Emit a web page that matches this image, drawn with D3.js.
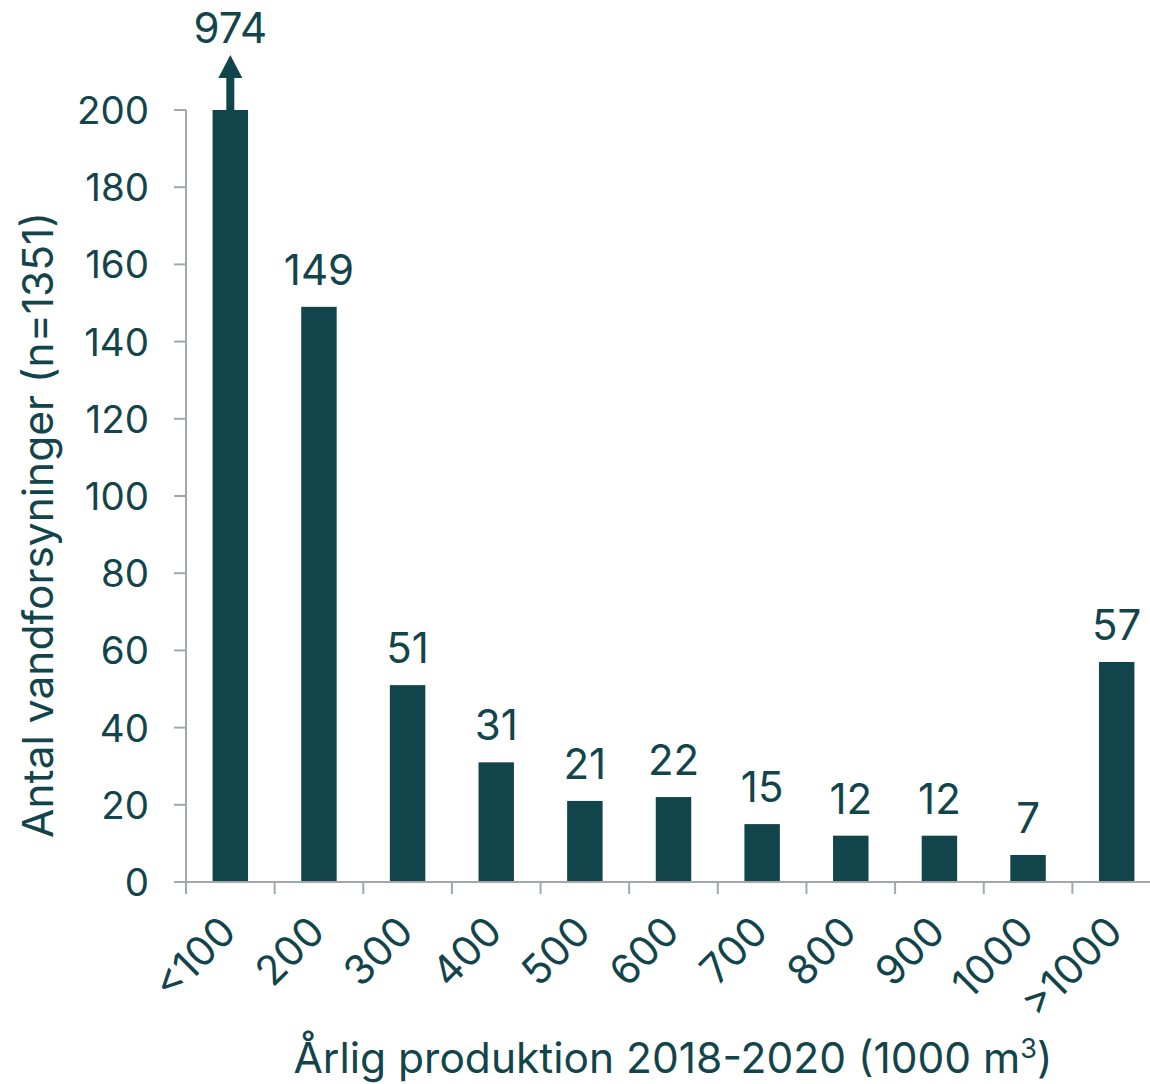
<!DOCTYPE html>
<html>
<head>
<meta charset="utf-8">
<script src="https://cdn.jsdelivr.net/npm/d3@7"></script>
<style>
  body { margin: 0; background: #fff; }
  text { font-family: Inter, "Noto Sans", sans-serif; fill: #12454b; }
</style>
</head>
<body>
<div id="chart"></div>
<script>
// categories and counts
const categories = ["<100", "200", "300", "400", "500", "600", "700", "800", "900", "1000", ">1000"];
const counts = [974, 149, 51, 31, 21, 22, 15, 12, 12, 7, 57];
const yTicks = [0, 20, 40, 60, 80, 100, 120, 140, 160, 180, 200];

const width = 1150, height = 1084;
const barColor = "#12454b", axisColor = "#a3a7a9";
const yMax = 200;

const svg = d3.select("#chart").append("svg")
    .attr("width", width)
    .attr("height", height);

const x = d3.scaleBand()
    .domain(categories)
    .range([186, 1161])
    .paddingInner(0.6)
    .paddingOuter(0.3);

const y = d3.scaleLinear()
    .domain([0, yMax])
    .range([882, 110]);

const step = x.step();

// bars (capped at axis max)
svg.selectAll(".bar")
  .data(counts)
  .enter().append("rect")
  .attr("x", (d, i) => x(categories[i]))
  .attr("y", d => y(Math.min(d, yMax)))
  .attr("width", x.bandwidth())
  .attr("height", d => y(0) - y(Math.min(d, yMax)))
  .attr("fill", barColor);

// arrow on the clipped bar
counts.forEach((d, i) => {
  if (d <= yMax) return;
  const cx = x(categories[i]) + x.bandwidth() / 2;
  const top = y(yMax);
  svg.append("rect")
    .attr("x", cx - 4).attr("y", top - 33)
    .attr("width", 8).attr("height", 33)
    .attr("fill", barColor);
  svg.append("path")
    .attr("d", `M${cx},${top - 55} L${cx + 12},${top - 32} L${cx - 12},${top - 32} Z`)
    .attr("fill", barColor);
});

// value labels
svg.selectAll(".val")
  .data(counts)
  .enter().append("text")
  .attr("x", (d, i) => x(categories[i]) + x.bandwidth() / 2)
  .attr("y", d => d > yMax ? 43 : y(d) - 22)
  .attr("text-anchor", "middle")
  .style("font-size", "42px")
  .text(d => d);

// y axis
const yAxis = svg.append("g");
yAxis.append("line")
  .attr("x1", 186).attr("x2", 186)
  .attr("y1", y(yMax)).attr("y2", y(0))
  .attr("stroke", axisColor).attr("stroke-width", 2);
yTicks.forEach(t => {
  yAxis.append("line")
    .attr("x1", 174).attr("x2", 186)
    .attr("y1", y(t)).attr("y2", y(t))
    .attr("stroke", axisColor).attr("stroke-width", 2);
  yAxis.append("text")
    .attr("x", 149).attr("y", y(t) + 14)
    .attr("text-anchor", "end")
    .style("font-size", "38.5px")
    .text(t);
});

// x axis
const xAxis = svg.append("g");
xAxis.append("line")
  .attr("x1", 186).attr("x2", 1161)
  .attr("y1", y(0)).attr("y2", y(0))
  .attr("stroke", axisColor).attr("stroke-width", 2);
categories.forEach(c => {
  const bx = x(c) - step * 0.3;
  xAxis.append("line")
    .attr("x1", bx).attr("x2", bx)
    .attr("y1", y(0)).attr("y2", y(0) + 12)
    .attr("stroke", axisColor).attr("stroke-width", 2);
});
xAxis.selectAll(".xl")
  .data(categories)
  .enter().append("text")
  .attr("transform", d => `translate(${x(d) + x.bandwidth() / 2 + 8},${y(0) + 52}) rotate(-45)`)
  .attr("text-anchor", "end")
  .style("font-size", "41px")
  .text(d => d);

// axis titles
svg.append("text")
  .attr("x", 673).attr("y", 1073)
  .attr("text-anchor", "middle")
  .style("font-size", "42.5px")
  .html('Årlig produktion 2018-2020 (1000 m<tspan dy="-15" style="font-size:27px">3</tspan><tspan dy="15">)</tspan>');

svg.append("text")
  .attr("transform", "translate(53,525) rotate(-90)")
  .attr("text-anchor", "middle")
  .style("font-size", "42.5px")
  .text("Antal vandforsyninger (n=1351)");
</script>
</body>
</html>
